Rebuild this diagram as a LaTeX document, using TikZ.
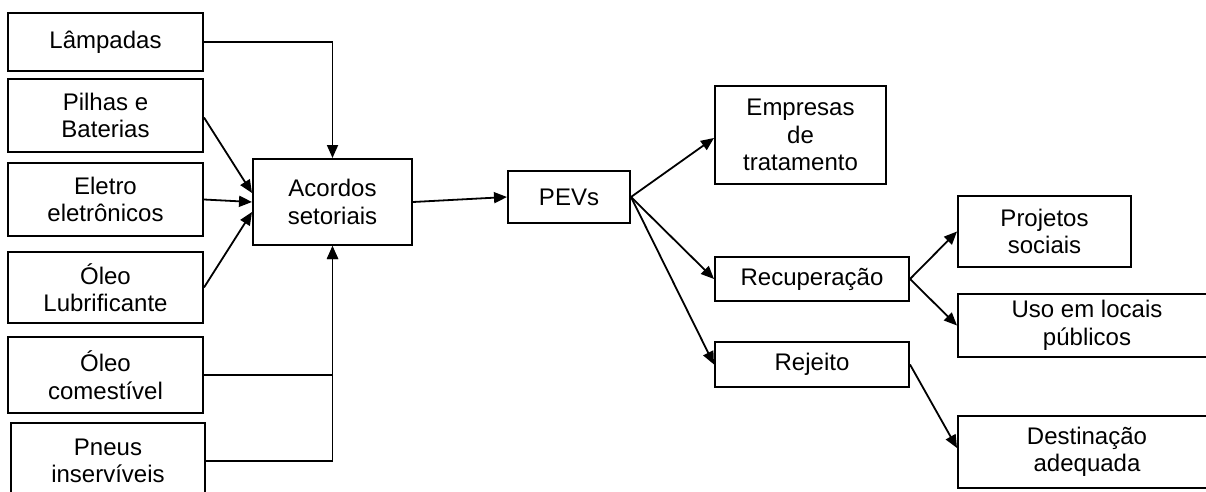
\documentclass[tikz,border=0pt]{standalone}
\usepackage{fontspec}
\setmainfont{Liberation Sans}
\usetikzlibrary{arrows.meta}

\begin{document}
\begin{tikzpicture}[
    x=1pt, y=-1pt,
    box/.style={draw, line width=2pt, align=center, inner sep=0pt, font=\fontsize{24}{27.5}\selectfont},
    arrow/.style={-{Triangle[length=13pt,width=11pt]}, line width=1.8pt},
  ]
    \useasboundingbox (0,0) rectangle (1206,492);
    \clip (0,0) rectangle (1206,492);

    % inputs
    \node[box, minimum width=195pt, minimum height=58pt] (lamp) at (105.5,42) {Lâmpadas};
    \node[box, minimum width=195pt, minimum height=73pt] (pilhas) at (105.5,115.5) {Pilhas e\\Baterias};
    \node[box, minimum width=195pt, minimum height=73pt] (eletro) at (105.5,199.5) {Eletro\\eletrônicos};
    \node[box, minimum width=195pt, minimum height=71pt] (oleolub) at (105.5,287.5) {Óleo\\Lubrificante};
    \node[box, minimum width=195pt, minimum height=76pt] (oleocom) at (105.5,375) {Óleo\\comestível};
    \node[box, minimum width=194pt, minimum height=76pt] (pneus) at (108,461) {Pneus\\inservíveis};

    % middle
    \node[box, minimum width=159pt, minimum height=86pt] (acordos) at (332.5,202) {Acordos\\setoriais};
    \node[box, minimum width=122pt, minimum height=52pt] (pevs) at (569,197) {PEVs};

    % outputs
    \node[box, minimum width=171pt, minimum height=98pt] (empresas) at (800.5,135) {Empresas\\de\\tratamento};
    \node[box, minimum width=194pt, minimum height=44pt] (recup) at (812,279) {Recuperação};
    \node[box, minimum width=194pt, minimum height=45pt] (rejeito) at (812,364.5) {Rejeito};
    \node[box, minimum width=173pt, minimum height=71pt] (projetos) at (1044.5,231.5) {Projetos\\sociais};
    \node[box, minimum width=258pt, minimum height=63pt] (uso) at (1087,325.5) {Uso em locais\\públicos};
    \node[box, minimum width=258pt, minimum height=72pt] (destino) at (1087,452) {Destinação\\adequada};

    \draw[arrow] (lamp.east) -| (acordos.north);
    \draw[arrow] ([yshift=-2pt]pilhas.east) -- ([yshift=9pt]acordos.west);
    \draw[arrow] (eletro.east) -- (acordos.west);
    \draw[arrow] (oleolub.east) -- ([yshift=-10pt]acordos.west);
    \draw[arrow] (oleocom.east) -| (acordos.south);
    \draw[arrow] (pneus.east) -| (acordos.south);
    \draw[arrow] (acordos.east) -- (pevs.west);
    \draw[arrow] (pevs.east) -- ([yshift=-3pt]empresas.west);
    \draw[arrow] (pevs.east) -- (recup.west);
    \draw[arrow] (pevs.east) -- (rejeito.west);
    \draw[arrow] (recup.east) -- (projetos.west);
    \draw[arrow] (recup.east) -- (uso.west);
    \draw[arrow] (rejeito.east) -- ([yshift=4pt]destino.west);
  \end{tikzpicture}
\end{document}
